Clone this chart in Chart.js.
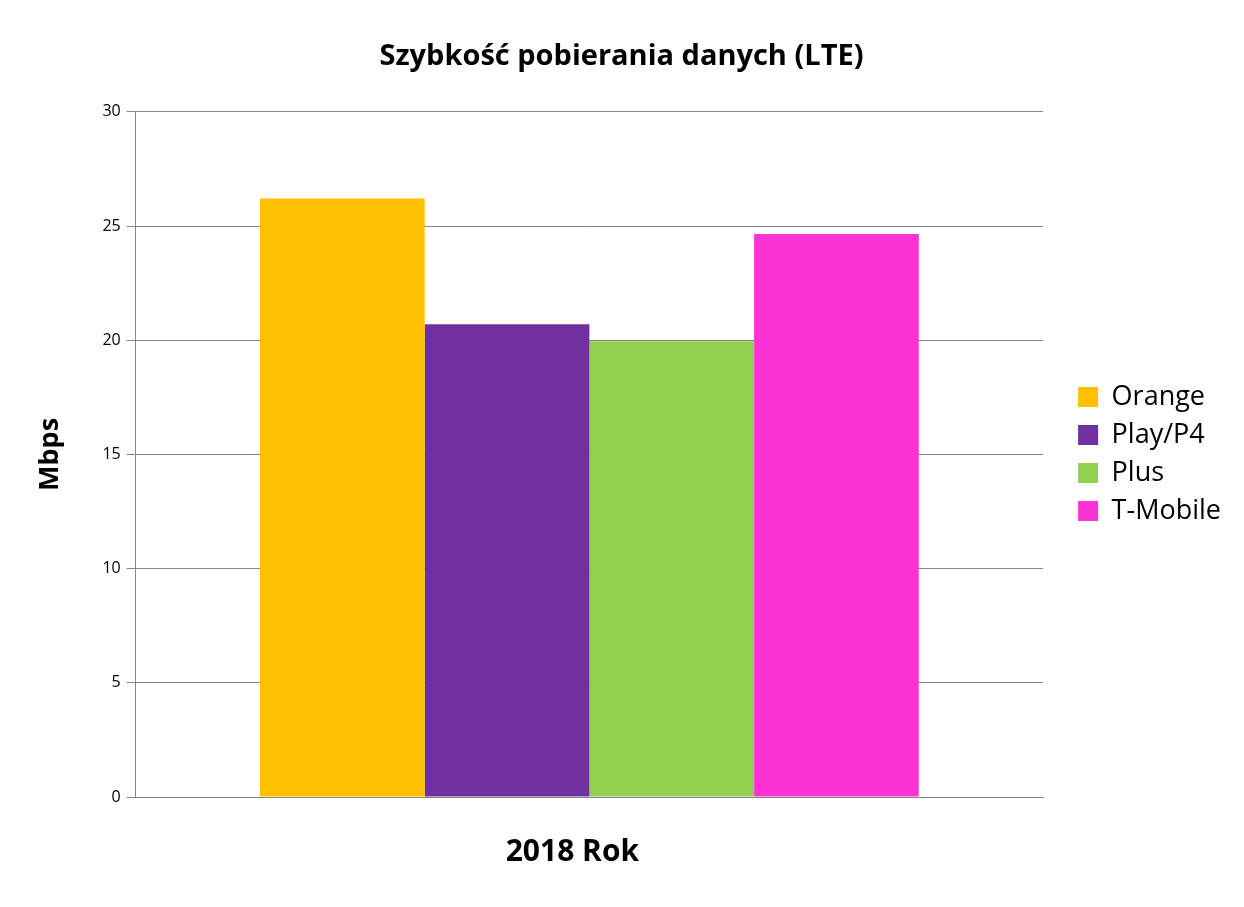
<!DOCTYPE html>
<html>
<head>
<meta charset="utf-8">
<script src="https://cdn.jsdelivr.net/npm/chart.js@4/dist/chart.umd.min.js"></script>
<style>
  html, body { margin: 0; padding: 0; background: #fff; }
  #chart { display: block; }
</style>
</head>
<body>
<canvas id="chart" width="1244" height="907"></canvas>
<script>
const categories = ['2018 Rok'];
const operators = ['Orange', 'Play/P4', 'Plus', 'T-Mobile'];
const speeds = [26.2, 20.7, 19.95, 24.65];
const colors = ['#FFC000', '#7030A0', '#92D050', '#FC33D3'];
const yTicks = [0, 5, 10, 15, 20, 25, 30];

const fontFamily = '"Open Sans", "DejaVu Sans", sans-serif';
const gridColor = '#868686';

// legend sits a bit away from the plot, like in the spreadsheet original
const legendGapX = 24;
const legendShiftY = -15;
const titleShiftX = -11;

const legendGap = {
    id: 'legendGap',
    beforeLayout(chart) {
        const legend = chart.legend;
        if (legend && !legend._gapPatched) {
            const fit = legend.fit;
            legend.fit = function () {
                fit.call(this);
                this.width += legendGapX;
            };
            legend._gapPatched = true;
        }
    },
    afterLayout(chart) {
        chart.legend.left += legendGapX;
        chart.legend.top += legendShiftY;
        chart.legend.bottom += legendShiftY;
        chart.titleBlock.left += titleShiftX;
        chart.titleBlock.right += titleShiftX;
    }
};

const datasets = operators.map((name, i) => ({
    label: name,
    data: [speeds[i]],
    backgroundColor: colors[i],
    borderWidth: 0
}));

const ctx = document.getElementById('chart').getContext('2d');
const chart = new Chart(ctx, {
    type: 'bar',
    data: { labels: categories, datasets: datasets },
    plugins: [legendGap],
    options: {
        responsive: false,
        animation: false,
        layout: { padding: { top: 39, right: 13, bottom: 8, left: 34 } },
        datasets: {
            bar: { categoryPercentage: 0.726, barPercentage: 1 }
        },
        plugins: {
            title: {
                display: true,
                text: 'Szybkość pobierania danych (LTE)',
                color: '#000',
                font: { family: fontFamily, size: 29, weight: 'bold' },
                padding: { top: 0, bottom: 38 }
            },
            legend: {
                position: 'right',
                labels: {
                    color: '#000',
                    font: { family: fontFamily, size: 27 },
                    boxWidth: 20,
                    boxHeight: 20,
                    padding: 11
                }
            },
            tooltip: { enabled: false }
        },
        scales: {
            x: {
                grid: { display: false },
                border: { display: true, color: gridColor },
                ticks: {
                    color: '#000',
                    font: { family: fontFamily, size: 30, weight: 'bold' },
                    padding: 29,
                    labelOffset: -17
                }
            },
            y: {
                min: 0,
                max: 30,
                afterBuildTicks: axis => { axis.ticks = yTicks.map(v => ({ value: v })); },
                grid: { color: gridColor, tickLength: 9, tickColor: gridColor },
                border: { display: true, color: gridColor },
                ticks: {
                    color: '#000',
                    font: { family: fontFamily, size: 16 },
                    padding: 6
                },
                title: {
                    display: true,
                    text: 'Mbps',
                    color: '#000',
                    font: { family: fontFamily, size: 27, weight: 'bold' },
                    padding: { top: 0, bottom: 30 }
                }
            }
        }
    }
});
</script>
</body>
</html>
